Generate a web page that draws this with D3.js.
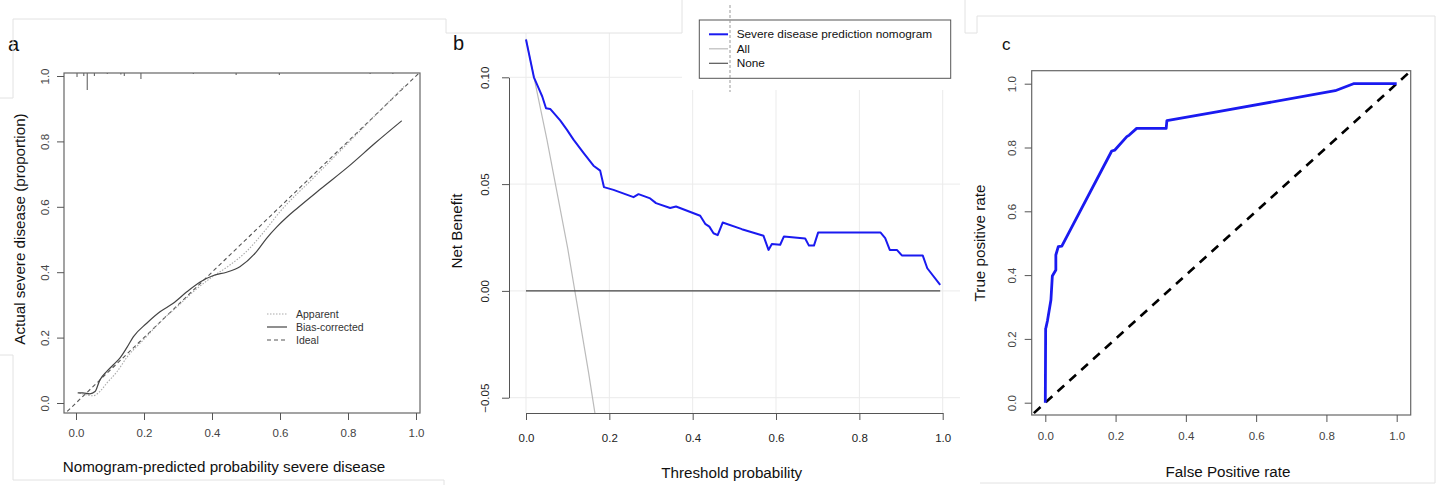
<!DOCTYPE html>
<html>
<head>
<meta charset="utf-8">
<script src="https://cdn.jsdelivr.net/npm/d3@7"></script>
<style>
  body { margin: 0; background: #fff; }
</style>
</head>
<body>
<div id="chart"></div>
<script>
// ---- panel a: calibration ----
const tickVals = [0, 0.2, 0.4, 0.6, 0.8, 1.0];
const biasX = [0.005, 0.02, 0.041, 0.056, 0.07, 0.09, 0.11, 0.129, 0.15, 0.169, 0.208, 0.247, 0.286, 0.326, 0.365, 0.404, 0.443, 0.482, 0.531, 0.56, 0.59, 0.62, 0.65, 0.72, 0.8, 0.88, 0.958];
const biasY = [0.031, 0.031, 0.028, 0.035, 0.07, 0.096, 0.117, 0.137, 0.17, 0.203, 0.244, 0.279, 0.305, 0.34, 0.37, 0.39, 0.40, 0.417, 0.463, 0.503, 0.538, 0.568, 0.595, 0.655, 0.722, 0.795, 0.863];
const appX = [0.01, 0.03, 0.05, 0.07, 0.09, 0.12, 0.15, 0.2, 0.25, 0.3, 0.35, 0.4, 0.45, 0.5, 0.55, 0.6, 0.7, 0.8, 0.9, 0.965];
const appY = [0.03, 0.025, 0.022, 0.035, 0.06, 0.095, 0.14, 0.195, 0.25, 0.297, 0.345, 0.385, 0.42, 0.462, 0.52, 0.585, 0.69, 0.795, 0.9, 0.968];
const idealX = [-0.1, 1.1];
const rugX = [0.003, 0.023, 0.033, 0.054, 0.092, 0.132, 0.142, 0.191, 0.345, 0.471, 0.598, 0.865, 0.932];
const rugFreq = [4, 3, 17, 3, 1, 1.5, 3, 6, 1, 2, 2, 1, 1];
const calLegend = ['Apparent', 'Bias-corrected', 'Ideal'];

// ---- panel b: decision curve ----
const nbTicksX = [0, 0.2, 0.4, 0.6, 0.8, 1.0];
const nbTicksY = [-0.05, 0, 0.05, 0.10];
const nbT = [0, 0.019, 0.03, 0.039, 0.048, 0.058, 0.07, 0.082, 0.098, 0.114, 0.138, 0.162, 0.178, 0.187, 0.21, 0.258, 0.27, 0.298, 0.312, 0.346, 0.36, 0.418, 0.43, 0.44, 0.45, 0.46, 0.472, 0.518, 0.57, 0.582, 0.59, 0.61, 0.619, 0.67, 0.679, 0.691, 0.701, 0.851, 0.862, 0.873, 0.89, 0.902, 0.952, 0.963, 0.994];
const nbV = [0.1177, 0.100, 0.095, 0.091, 0.0855, 0.0852, 0.0825, 0.0798, 0.0755, 0.0708, 0.0646, 0.0586, 0.0563, 0.0486, 0.0473, 0.0439, 0.0453, 0.0433, 0.0411, 0.0388, 0.0395, 0.0352, 0.0314, 0.0301, 0.027, 0.0261, 0.032, 0.0289, 0.0258, 0.0192, 0.022, 0.0216, 0.0255, 0.0245, 0.0212, 0.0212, 0.0273, 0.0273, 0.0247, 0.0192, 0.0192, 0.0166, 0.0166, 0.0106, 0.0028];
const allT = [0, 0.05, 0.10, 0.15, 0.17];
const allV = [0.118, 0.071, 0.020, -0.038, -0.063];
const noneT = [0, 0.994];
const noneV = [0, 0];
const dcaLegend = ['Severe disease prediction nomogram', 'All', 'None'];

// ---- panel c: ROC ----
const fpr = [0, 0.001, 0.002, 0.006, 0.016, 0.02, 0.03, 0.03, 0.037, 0.047, 0.189, 0.198, 0.232, 0.239, 0.26, 0.344, 0.346, 0.488, 0.825, 0.877, 1.0];
const tpr = [0, 0.233, 0.236, 0.256, 0.322, 0.397, 0.416, 0.463, 0.489, 0.491, 0.789, 0.792, 0.834, 0.839, 0.86, 0.86, 0.884, 0.912, 0.978, 1.0, 1.0];
const chanceX = [-0.1, 1.1];

const W = 1440, H = 485;
const FONT = '"Liberation Sans", Arial, Helvetica, sans-serif';
const svg = d3.select('#chart').append('svg').attr('width', W).attr('height', H)
  .attr('font-family', FONT).style('display', 'block');
svg.append('rect').attr('width', W).attr('height', H).attr('fill', '#fff');

const zip = (xs, ys) => xs.map((x, i) => [x, ys[i]]);
const fmt1 = d3.format('.1f');
const fmt2 = d => d3.format('.2f')(d).replace('-', '\u2212');

// bottom axis with centred labels, R style
function bottomAxis(g, x, y0, ticks, f, off, color, withDomain) {
  const a = g.append('g').attr('transform', `translate(0,${y0})`)
    .call(d3.axisBottom(x).tickValues(ticks).tickFormat(f).tickSize(7).tickSizeOuter(0));
  a.attr('font-family', FONT);
  if (!withDomain) a.select('.domain').remove();
  a.selectAll('path, line').attr('stroke', '#555');
  a.selectAll('text').attr('y', off).attr('dy', '0.35em')
    .style('font-size', '11.5px').attr('fill', color);
  return a;
}
function leftAxis(g, y, x0, ticks, f, off, color, withDomain) {
  const a = g.append('g').attr('transform', `translate(${x0},0)`)
    .call(d3.axisLeft(y).tickValues(ticks).tickFormat(f).tickSize(7).tickSizeOuter(0));
  a.attr('font-family', FONT);
  if (!withDomain) a.select('.domain').remove();
  a.selectAll('path, line').attr('stroke', '#555');
  a.selectAll('text').attr('transform', 'rotate(-90)').attr('x', 0).attr('y', -off)
    .attr('dy', '0.35em').attr('text-anchor', 'middle')
    .style('font-size', '11.5px').attr('fill', color);
  return a;
}
function title(x, y, txt, rot, size) {
  svg.append('text').attr('transform', `translate(${x},${y})` + (rot ? ' rotate(-90)' : ''))
    .attr('text-anchor', 'middle').attr('dy', '0.35em')
    .style('font-size', (size || 15.2) + 'px').attr('fill', '#111').text(txt);
}

// faint frames left over from the composed figure
const frames = svg.append('g').attr('fill', 'none').attr('stroke', '#e2e2e2').attr('stroke-width', 1);
frames.append('path').attr('d', 'M0,98 H13 V19 H446 V33 H682 V0');
frames.append('path').attr('d', 'M0,355 H13 V480 H444 V485');
frames.append('path').attr('d', 'M965,0 V33 H977 V16 H1435 V483 H980');

// ================= panel a =================
{
  const x = d3.scaleLinear().domain([0, 1]).range([76, 416]);
  const y = d3.scaleLinear().domain([0, 1]).range([403, 76]);
  const box = { x0: 64, x1: 420, y0: 73, y1: 413 };
  const g = svg.append('g');
  svg.append('clipPath').attr('id', 'clipA').append('rect')
    .attr('x', box.x0).attr('y', box.y0).attr('width', box.x1 - box.x0).attr('height', box.y1 - box.y0);
  const line = d3.line().x(d => x(d[0])).y(d => y(d[1])).curve(d3.curveMonotoneX);
  const pl = g.append('g').attr('clip-path', 'url(#clipA)');
  pl.append('path').datum(zip(idealX, idealX)).attr('d', line)
    .attr('fill', 'none').attr('stroke', '#555').attr('stroke-width', 1.1).attr('stroke-dasharray', '4,3');
  pl.append('path').datum(zip(appX, appY)).attr('d', line)
    .attr('fill', 'none').attr('stroke', '#aaa').attr('stroke-width', 1.1).attr('stroke-dasharray', '1.5,1.5');
  pl.append('path').datum(zip(biasX, biasY)).attr('d', line)
    .attr('fill', 'none').attr('stroke', '#444').attr('stroke-width', 1.2);
  // rug of predicted probabilities along the top
  const rugH = d3.scaleLinear().domain([0, 17]).range([0, 17]);
  g.selectAll('.rug').data(zip(rugX, rugFreq)).enter().append('line')
    .attr('x1', d => x(d[0])).attr('x2', d => x(d[0]))
    .attr('y1', box.y0).attr('y2', d => box.y0 + rugH(d[1]))
    .attr('stroke', '#555').attr('stroke-width', 1);
  g.append('rect').attr('x', box.x0).attr('y', box.y0).attr('width', box.x1 - box.x0).attr('height', box.y1 - box.y0)
    .attr('fill', 'none').attr('stroke', '#666').attr('stroke-width', 1.2);
  bottomAxis(g, x, box.y1, tickVals, fmt1, 20, '#444', false);
  leftAxis(g, y, box.x0, tickVals, fmt1, 19, '#444', false);
  // legend
  const lg = g.append('g').attr('transform', 'translate(267,314)');
  const styles = [
    { c: '#aaa', d: '1.5,1.5', w: 1.1 },
    { c: '#444', d: null, w: 1.2 },
    { c: '#555', d: '4,3', w: 1.1 }
  ];
  calLegend.forEach((t, i) => {
    lg.append('line').attr('x1', 0).attr('x2', 20).attr('y1', i * 13).attr('y2', i * 13)
      .attr('stroke', styles[i].c).attr('stroke-width', styles[i].w).attr('stroke-dasharray', styles[i].d);
    lg.append('text').attr('x', 29).attr('y', i * 13).attr('dy', '0.35em')
      .style('font-size', '10.5px').attr('fill', '#333').text(t);
  });
  title(224, 466.7, 'Nomogram-predicted probability severe disease');
  title(20, 229, 'Actual severe disease (proportion)', true);
  svg.append('text').attr('x', 8).attr('y', 51).style('font-size', '20px').attr('fill', '#111').text('a');
}

// ================= panel b =================
{
  const x = d3.scaleLinear().domain([0, 1]).range([526, 942.7]);
  const y = d3.scaleLinear().domain([-0.05, 0.10]).range([397.7, 77.3]);
  const plot = { x0: 509, x1: 960, y0: 20, y1: 413 };
  const g = svg.append('g');
  // grid
  g.selectAll('.vg').data(nbTicksX).enter().append('line')
    .attr('x1', d => x(d)).attr('x2', d => x(d)).attr('y1', plot.y0).attr('y2', plot.y1)
    .attr('stroke', '#ebebeb').attr('stroke-width', 1);
  g.selectAll('.hg').data(nbTicksY).enter().append('line')
    .attr('x1', plot.x0).attr('x2', plot.x1).attr('y1', d => y(d)).attr('y2', d => y(d))
    .attr('stroke', '#ebebeb').attr('stroke-width', 1);
  svg.append('clipPath').attr('id', 'clipB').append('rect')
    .attr('x', plot.x0).attr('y', plot.y0).attr('width', plot.x1 - plot.x0).attr('height', plot.y1 - plot.y0);
  const line = d3.line().x(d => x(d[0])).y(d => y(d[1]));
  const pl = g.append('g').attr('clip-path', 'url(#clipB)');
  pl.append('path').datum(zip(allT, allV)).attr('d', line)
    .attr('fill', 'none').attr('stroke', '#bbb').attr('stroke-width', 1.2);
  pl.append('path').datum(zip(noneT, noneV)).attr('d', line)
    .attr('fill', 'none').attr('stroke', '#444').attr('stroke-width', 1.3);
  pl.append('path').datum(zip(nbT, nbV)).attr('d', line)
    .attr('fill', 'none').attr('stroke', '#1a1af0').attr('stroke-width', 2).attr('stroke-linejoin', 'round');
  bottomAxis(g, x, plot.y1, nbTicksX, fmt1, 25, '#222', true);
  leftAxis(g, y, plot.x0, nbTicksY, fmt2, 24, '#222', true);
  // white patch behind the pasted legend
  g.append('rect').attr('x', 682).attr('y', 0).attr('width', 278).attr('height', 90).attr('fill', '#fff');
  g.append('rect').attr('x', 440).attr('y', 0).attr('width', 242).attr('height', 33).attr('fill', '#fff');
  frames.raise();
  // legend
  const lg = g.append('g');
  lg.append('rect').attr('x', 699.3).attr('y', 20).attr('width', 251.4).attr('height', 58.3)
    .attr('fill', '#fff').attr('stroke', '#555').attr('stroke-width', 1);
  const st = [{ c: '#1a1af0', w: 2 }, { c: '#bbb', w: 1.2 }, { c: '#555', w: 1.2 }];
  dcaLegend.forEach((t, i) => {
    const yy = 34.3 + i * 14.5;
    lg.append('line').attr('x1', 709).attr('x2', 728).attr('y1', yy).attr('y2', yy)
      .attr('stroke', st[i].c).attr('stroke-width', st[i].w);
    lg.append('text').attr('x', 736.7).attr('y', yy).attr('dy', '0.35em')
      .style('font-size', '11.8px').attr('fill', '#111').text(t);
  });
  lg.append('line').attr('x1', 730).attr('x2', 730).attr('y1', 5).attr('y2', 92)
    .attr('stroke', '#999').attr('stroke-width', 1).attr('stroke-dasharray', '3,2');
  title(731.7, 473, 'Threshold probability');
  title(457, 231, 'Net Benefit', true);
  svg.append('text').attr('x', 453).attr('y', 50).style('font-size', '20px').attr('fill', '#111').text('b');
}

// ================= panel c =================
{
  const x = d3.scaleLinear().domain([0, 1]).range([1045.3, 1396.7]);
  const y = d3.scaleLinear().domain([0, 1]).range([402.7, 83.7]);
  const box = { x0: 1031.7, x1: 1410.7, y0: 70.7, y1: 415 };
  const g = svg.append('g');
  svg.append('clipPath').attr('id', 'clipC').append('rect')
    .attr('x', box.x0).attr('y', box.y0).attr('width', box.x1 - box.x0).attr('height', box.y1 - box.y0);
  const line = d3.line().x(d => x(d[0])).y(d => y(d[1]));
  const pl = g.append('g').attr('clip-path', 'url(#clipC)');
  pl.append('path').datum(zip(chanceX, chanceX)).attr('d', line)
    .attr('fill', 'none').attr('stroke', '#000').attr('stroke-width', 2.6).attr('stroke-dasharray', '9,7');
  pl.append('path').datum(zip(fpr, tpr)).attr('d', line)
    .attr('fill', 'none').attr('stroke', '#1a1af0').attr('stroke-width', 2.8).attr('stroke-linejoin', 'round');
  g.append('rect').attr('x', box.x0).attr('y', box.y0).attr('width', box.x1 - box.x0).attr('height', box.y1 - box.y0)
    .attr('fill', 'none').attr('stroke', '#666').attr('stroke-width', 1.2);
  bottomAxis(g, x, box.y1, tickVals, fmt1, 21, '#444', false);
  leftAxis(g, y, box.x0, tickVals, fmt1, 20, '#444', false);
  title(1228, 471.7, 'False Positive rate');
  title(980, 243, 'True positive rate', true);
  svg.append('text').attr('x', 1002).attr('y', 50).style('font-size', '17px').attr('fill', '#111').text('c');
}
</script>
</body>
</html>
